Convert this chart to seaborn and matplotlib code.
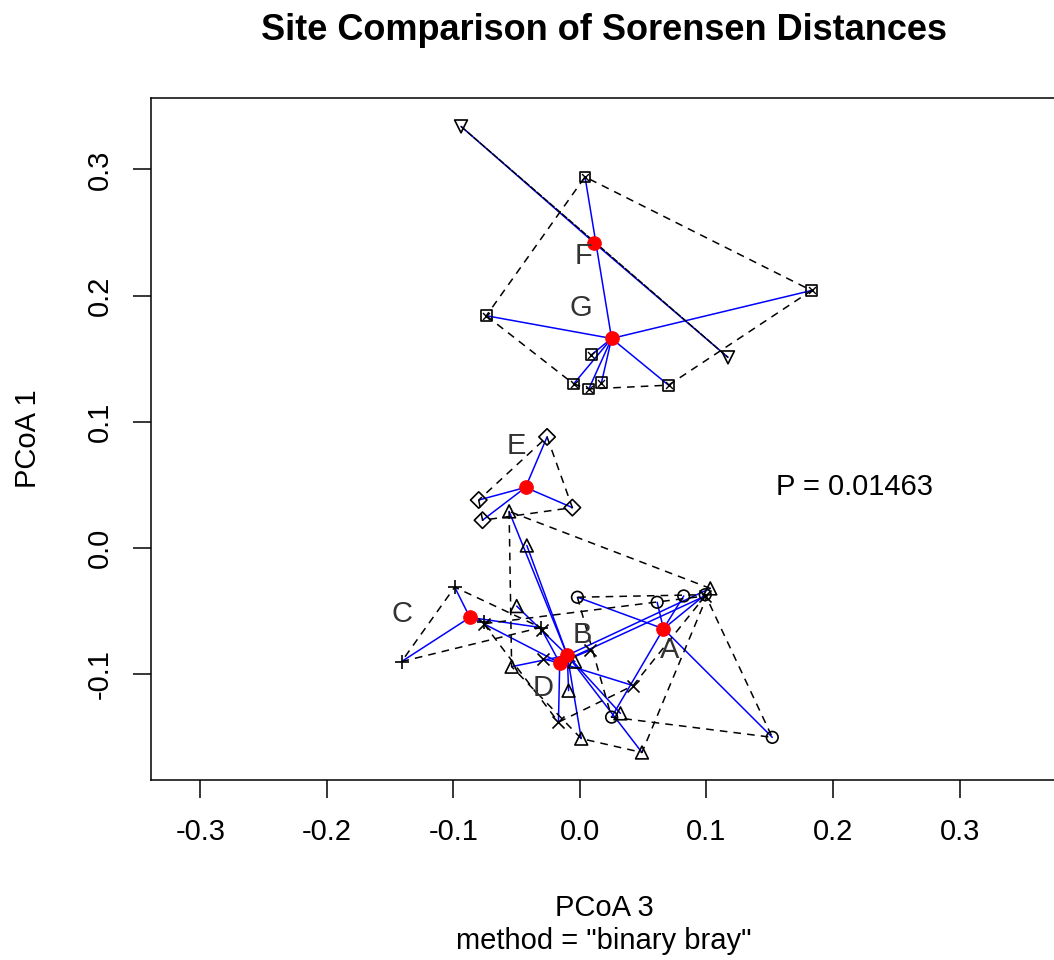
import numpy as np
import pandas as pd
import matplotlib
matplotlib.use("Agg")
import matplotlib.pyplot as plt
import seaborn as sns

# ---------------- data ----------------
groups = ["A", "B", "C", "D", "E", "F", "G"]

A_x = [-0.002, 0.061, 0.082, 0.099, 0.152, 0.025]
A_y = [-0.039, -0.043, -0.038, -0.037, -0.150, -0.134]

B_x = [-0.056, -0.042, -0.050, -0.054, -0.004, -0.009, 0.001, 0.049, 0.032, 0.103]
B_y = [0.029, 0.002, -0.046, -0.094, -0.090, -0.113, -0.151, -0.162, -0.131, -0.032]

C_x = [-0.099, -0.141, -0.076, -0.031]
C_y = [-0.031, -0.090, -0.059, -0.063]

D_x = [-0.076, -0.030, -0.029, 0.008, -0.017, 0.042, 0.099]
D_y = [-0.060, -0.065, -0.088, -0.081, -0.138, -0.109, -0.038]

E_x = [-0.026, -0.080, -0.077, -0.006]
E_y = [0.088, 0.038, 0.022, 0.032]

F_x = [-0.094, 0.117]
F_y = [0.334, 0.151]

G_x = [0.004, -0.074, 0.183, 0.009, -0.005, 0.007, 0.017, 0.070]
G_y = [0.294, 0.184, 0.204, 0.153, 0.130, 0.126, 0.131, 0.129]

cent_x = [0.066, -0.010, -0.087, -0.016, -0.043, 0.011, 0.025]
cent_y = [-0.064, -0.085, -0.055, -0.091, 0.048, 0.242, 0.166]

label_x = [0.071, 0.002, -0.141, -0.029, -0.050, 0.003, 0.001]
label_y = [-0.081, -0.069, -0.052, -0.111, 0.081, 0.231, 0.190]

x_ticks = [-0.3, -0.2, -0.1, 0.0, 0.1, 0.2, 0.3]
y_ticks = [-0.1, 0.0, 0.1, 0.2, 0.3]

p_label = "P = 0.01463"
title = "Site Comparison of Sorensen Distances"
x_title = "PCoA 3"
y_title = "PCoA 1"
sub_title = 'method = "binary bray"'

group_x = [A_x, B_x, C_x, D_x, E_x, F_x, G_x]
group_y = [A_y, B_y, C_y, D_y, E_y, F_y, G_y]

# ---------------- style ----------------
sns.set_theme(style="ticks")
plt.rcParams["font.family"] = ["Liberation Sans", "DejaVu Sans"]
plt.rcParams["axes.linewidth"] = 1.1
plt.rcParams["text.color"] = "black"

W, H = 1054, 960
fig = plt.figure(figsize=(W / 100, H / 100), dpi=100)
L, R, T, Bt = 151, 1057, 98, 780
ax = fig.add_axes([L / W, 1 - Bt / H, (R - L) / W, (Bt - T) / H])
ax.set_xlim(-0.339, 0.377)
ax.set_ylim(-0.1838, 0.3565)


def convex_hull(pts):
    pts = sorted(set(pts))
    if len(pts) <= 2:
        return pts

    def cross(o, a, b):
        return (a[0] - o[0]) * (b[1] - o[1]) - (a[1] - o[1]) * (b[0] - o[0])

    lower, upper = [], []
    for p in pts:
        while len(lower) >= 2 and cross(lower[-2], lower[-1], p) <= 0:
            lower.pop()
        lower.append(p)
    for p in reversed(pts):
        while len(upper) >= 2 and cross(upper[-2], upper[-1], p) <= 0:
            upper.pop()
        upper.append(p)
    return lower[:-1] + upper[:-1]


markers = ["o", "^", "+", "x", "D", "v", "s"]
sizes = [70, 85, 110, 75, 70, 85, 60]

for gi, g in enumerate(groups):
    xs, ys = group_x[gi], group_y[gi]
    cx, cy = cent_x[gi], cent_y[gi]
    hull = convex_hull(list(zip(xs, ys)))
    # blue segments centroid -> points
    for px, py in zip(xs, ys):
        ax.plot([cx, px], [cy, py], color="blue", lw=1.1, zorder=2)
    if len(hull) == 2:
        ax.plot([hull[0][0], hull[1][0]], [hull[0][1], hull[1][1]],
                color="black", lw=1.0, linestyle=(0, (5, 1)), zorder=3)
    else:
        hx = [p[0] for p in hull] + [hull[0][0]]
        hy = [p[1] for p in hull] + [hull[0][1]]
        ax.plot(hx, hy, color="black", lw=1.1, linestyle=(0, (5, 4)), zorder=3)
    # points
    df = pd.DataFrame({"x": xs, "y": ys})
    m = markers[gi]
    if m in ("+", "x"):
        sns.scatterplot(data=df, x="x", y="y", ax=ax, marker=m, s=sizes[gi],
                        color="black", linewidth=1.2, zorder=4, legend=False)
    else:
        sns.scatterplot(data=df, x="x", y="y", ax=ax, marker=m, s=sizes[gi],
                        facecolor="none", edgecolor="black", linewidth=1.2,
                        zorder=4, legend=False)
        if m == "s":
            sns.scatterplot(data=df, x="x", y="y", ax=ax, marker="x", s=25,
                            color="black", linewidth=1.0, zorder=4, legend=False)

# centroids
cdf = pd.DataFrame({"x": cent_x, "y": cent_y, "g": groups})
sns.scatterplot(data=cdf, x="x", y="y", ax=ax, color="red", edgecolor="red",
                s=95, zorder=5, legend=False)

for gi, g in enumerate(groups):
    ax.text(label_x[gi], label_y[gi], g, fontsize=21, color="#333333",
            ha="center", va="center", zorder=6)

ax.text(0.217, 0.048, p_label, fontsize=21, color="black", ha="center", va="center")

ax.set_xticks(x_ticks)
ax.set_xticklabels([f"{v:.1f}" for v in x_ticks])
ax.set_yticks(y_ticks)
ax.set_yticklabels([f"{v:.1f}" for v in y_ticks], rotation=90, va="center")
ax.tick_params(axis="both", direction="out", length=13, width=1.1,
               labelsize=21, colors="black", pad=14)
ax.set_xlabel("")
ax.set_ylabel("")
for s in ax.spines.values():
    s.set_color("black")
    s.set_linewidth(1.1)
    s.set_visible(True)

fig.text(604 / W, 1 - 30 / H, title, fontsize=26, fontweight="bold",
         ha="center", va="center", color="black")
fig.text(604 / W, 1 - 908 / H, x_title, fontsize=21, ha="center", va="center",
         color="black")
fig.text(604 / W, 1 - 941 / H, sub_title, fontsize=21, ha="center", va="center",
         color="black")
fig.text(28 / W, 1 - 439 / H, y_title, fontsize=21, ha="center", va="center",
         rotation=90, color="black")

fig.savefig("out.png", dpi=100)
